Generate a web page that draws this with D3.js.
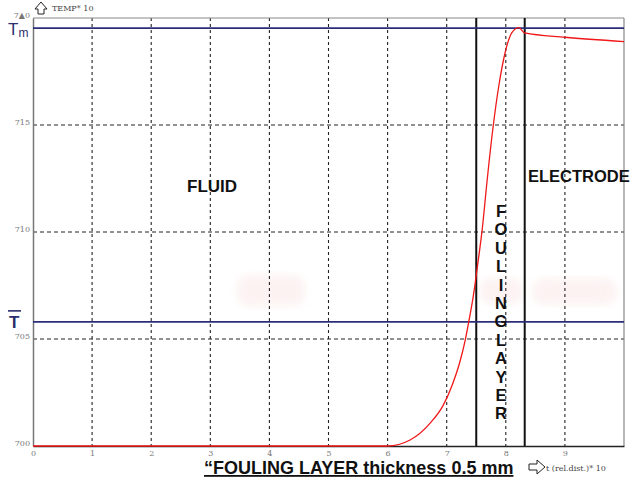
<!DOCTYPE html>
<html>
<head>
<meta charset="utf-8">
<script src="https://cdn.jsdelivr.net/npm/d3@7"></script>
<style>
  body { margin: 0; background: #fff; }
  svg { display: block; }
  .tick text { font-family: "DejaVu Serif", serif; font-size: 8px; fill: #777; }
  .big { font-family: "Liberation Sans", Arial, sans-serif; font-weight: bold; fill: #111; }
</style>
</head>
<body>
<div id="chart"></div>
<script>
// data
var relDist = [0, 1, 2, 3, 4, 5, 6.0, 6.38, 6.72, 6.94, 7.1, 7.22, 7.31, 7.38, 7.45, 7.53, 7.6, 7.68, 7.78, 7.88, 7.99, 8.1, 8.22, 8.32, 9.0, 10];
var temp    = [700, 700, 700, 700, 700, 700, 700.0, 700.28, 701.07, 701.9, 702.9, 703.9, 704.9, 705.9, 707.0, 708.6, 710.1, 712.3, 714.8, 716.8, 718.4, 719.3, 719.55, 719.3, 719.1, 718.9];
var xTicks = [0, 1, 2, 3, 4, 5, 6, 7, 8, 9];
var yTicks = [700, 705, 710, 715, 720];
var yTickLabels = ['700', '705', '710', '715', '7▲0'];
var tMax = 719.53;      // T_m line
var tMean = 705.8;      // T bar line
var layerBounds = [7.5, 8.32];
var layerWord = 'FOULING LAYER';

(function () {
const W = 635, H = 481;
const PL = 33, PR = 624, PT = 18, PB = 446;

var svg = d3.select('#chart').append('svg')
            .attr('width', W)
            .attr('height', H);

var x = d3.scaleLinear().domain([0, 10]).range([PL, PR]);
var y = d3.scaleLinear().domain([700, 720]).range([PB, PT]);

// faint watermark blobs
var defs = svg.append('defs');
defs.append('filter').attr('id', 'blur').append('feGaussianBlur').attr('stdDeviation', 4);
var blobs = [[3.45, 4.6, 275, 306], [7.55, 8.3, 278, 304], [8.45, 9.88, 278, 305]];
svg.selectAll('rect.blob').data(blobs).enter().append('rect')
   .attr('x', d => x(d[0])).attr('y', d => d[2])
   .attr('width', d => x(d[1]) - x(d[0])).attr('height', d => d[3] - d[2])
   .attr('rx', 12)
   .attr('fill', '#fbeaea').attr('opacity', 0.6)
   .attr('filter', 'url(#blur)');

// vertical grid
svg.append('g').selectAll('line').data(xTicks.slice(1)).enter().append('line')
   .attr('x1', d => x(d)).attr('x2', d => x(d))
   .attr('y1', PT).attr('y2', PB)
   .attr('stroke', '#222').attr('stroke-width', 1.1)
   .attr('stroke-dasharray', '3,3');

// horizontal grid
svg.append('g').selectAll('line').data([705, 710, 715]).enter().append('line')
   .attr('x1', PL).attr('x2', PR)
   .attr('y1', d => y(d)).attr('y2', d => y(d))
   .attr('stroke', '#222').attr('stroke-width', 1)
   .attr('stroke-dasharray', '4,3');

// frame
svg.append('line').attr('x1', PL).attr('x2', PR).attr('y1', PT).attr('y2', PT)
   .attr('stroke', '#888').attr('stroke-width', 1.2);
svg.append('line').attr('x1', PR).attr('x2', PR).attr('y1', PT).attr('y2', PB)
   .attr('stroke', '#888').attr('stroke-width', 1.2);

// axes
var xAxis = svg.append('g').attr('transform', 'translate(0,' + PB + ')')
   .call(d3.axisBottom(x).tickValues(xTicks).tickSize(0).tickPadding(4).tickFormat(d3.format('d')));
xAxis.select('.domain').attr('stroke', '#222').attr('stroke-width', 1.5);

var yAxis = svg.append('g').attr('transform', 'translate(' + PL + ',0)')
   .call(d3.axisLeft(y).tickValues(yTicks).tickSize(0).tickPadding(3)
          .tickFormat((d, i) => yTickLabels[i]));
yAxis.select('.domain').attr('stroke', '#777').attr('stroke-width', 1.5);
yAxis.selectAll('.tick text').attr('dy', '-0.1em');

// fouling layer boundaries
svg.append('g').selectAll('line').data(layerBounds).enter().append('line')
   .attr('x1', d => x(d)).attr('x2', d => x(d))
   .attr('y1', PT).attr('y2', PB)
   .attr('stroke', '#111').attr('stroke-width', 2);

// T_m and T bar lines
svg.append('g').selectAll('line').data([tMax, tMean]).enter().append('line')
   .attr('x1', PL).attr('x2', PR)
   .attr('y1', d => y(d)).attr('y2', d => y(d))
   .attr('stroke', '#2b2f7a').attr('stroke-width', 1.8);

// temperature curve
var line = d3.line().x((d, i) => x(relDist[i])).y(d => y(d)).curve(d3.curveMonotoneX);
svg.append('path').datum(temp)
   .attr('d', line)
   .attr('fill', 'none')
   .attr('stroke', '#f01818')
   .attr('stroke-width', 1.3);

// side labels
svg.append('text').attr('x', 8).attr('y', y(tMax) + 7)
   .attr('font-family', 'Liberation Sans, Arial, sans-serif').attr('font-size', 17)
   .attr('fill', '#2b2f6e')
   .text('T').append('tspan').attr('font-size', 12).attr('dy', 2).text('m');
svg.append('text').attr('x', 9).attr('y', y(tMean) + 6)
   .attr('font-family', 'Liberation Sans, Arial, sans-serif').attr('font-size', 17)
   .attr('font-weight', 'bold').attr('fill', '#2b2f6e')
   .text('T');
svg.append('line').attr('x1', 8).attr('x2', 21).attr('y1', y(tMean) - 11).attr('y2', y(tMean) - 11)
   .attr('stroke', '#2b2f6e').attr('stroke-width', 1.6);

// axis arrows
svg.append('path')
   .attr('d', 'M35,9 L41,2 L47,9 L44,9 L44,14 L38,14 L38,9 Z')
   .attr('fill', '#fff').attr('stroke', '#222').attr('stroke-width', 1);
svg.append('text').attr('x', 52).attr('y', 11)
   .attr('font-family', 'DejaVu Serif, serif').attr('font-size', 8).attr('fill', '#444')
   .text('TEMP*  10');

svg.append('path')
   .attr('d', 'M529,464 L537,464 L537,460 L545,467 L537,474 L537,470 L529,470 Z')
   .attr('fill', '#fff').attr('stroke', '#222').attr('stroke-width', 1);
svg.append('text').attr('x', 546).attr('y', 471)
   .attr('font-family', 'DejaVu Serif, serif').attr('font-size', 8).attr('fill', '#444')
   .text('t (rel.dist.)*  10');

// region labels
svg.append('text').attr('class', 'big').attr('x', 187).attr('y', 192)
   .attr('font-size', 17).text('FLUID');
svg.append('text').attr('class', 'big').attr('x', 528).attr('y', 182)
   .attr('font-size', 16.5).text('ELECTRODE');

svg.append('g').selectAll('text').data(layerWord.split('').filter(c => c != ' ')).enter().append('text')
   .attr('class', 'big')
   .attr('x', x((layerBounds[0] + layerBounds[1]) / 2) + 0.5)
   .attr('y', (d, i) => 217 + i * 18.4)
   .attr('text-anchor', 'middle')
   .attr('font-size', 16.5)
   .text(d => d);

// caption
svg.append('text').attr('class', 'big').attr('x', 204).attr('y', 474)
   .attr('font-size', 18).attr('text-decoration', 'underline')
   .text('\u201cFOULING LAYER thickness 0.5 mm');
})();
</script>
</body>
</html>
